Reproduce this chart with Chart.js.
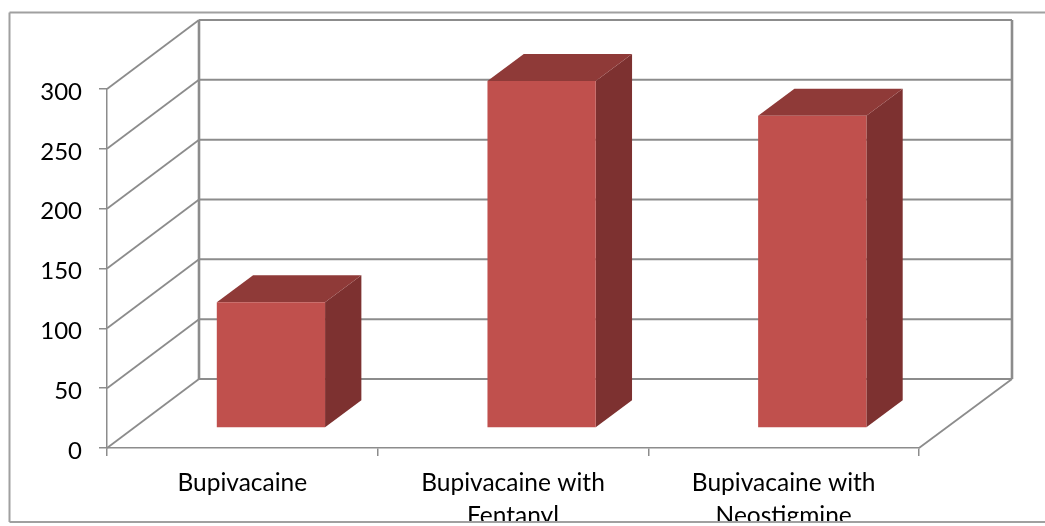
<!DOCTYPE html>
<html>
<head>
<meta charset="utf-8">
<style>
  html, body { margin: 0; padding: 0; background: #fff; overflow: hidden; }
  canvas { display: block; }
</style>
<script src="https://cdn.jsdelivr.net/npm/chart.js@4"></script>
</head>
<body>
<canvas id="chart" width="1045" height="526"></canvas>
<script>
const categories = [
  "Bupivacaine",
  ["Bupivacaine with", "Fentanyl"],
  ["Bupivacaine with", "Neostigmine"]
];
const values = [105, 290, 261];
const axisMin = 0;
const axisMax = 300;
const axisStep = 50;

// Oblique projection used for the box look
const WALL_DX = 92, WALL_DY = -69;     // floor depth, front edge to back wall
const BAR_DX = 28.6, BAR_DY = -20;     // bars stand this far in from the front edge
const BOX_DX = 36.3, BOX_DY = -27;     // depth of each bar

const LINE = "#8c8c8c";
const FRONT = "#c0504d", SIDE = "#7d3130", TOP = "#8f3a38";
const LABEL_FONT = "Lato";

function segment(ctx, x1, y1, x2, y2, width, color) {
  ctx.beginPath();
  ctx.moveTo(x1, y1);
  ctx.lineTo(x2, y2);
  ctx.lineWidth = width;
  ctx.strokeStyle = color || LINE;
  ctx.stroke();
}

function polygon(ctx, pts, color) {
  ctx.beginPath();
  pts.forEach((p, i) => i ? ctx.lineTo(p[0], p[1]) : ctx.moveTo(p[0], p[1]));
  ctx.closePath();
  ctx.fillStyle = color;
  ctx.fill();
}

const boxWalls = {
  id: "boxWalls",
  beforeDatasetsDraw(chart) {
    const { ctx, scales: { x, y } } = chart;
    const left = x.left, right = x.right;
    ctx.save();
    y.ticks.forEach(t => {
      const py = y.getPixelForValue(t.value);
      segment(ctx, left, py, left + WALL_DX, py + WALL_DY, 1.8);
      segment(ctx, left + WALL_DX, py + WALL_DY, right + WALL_DX + 1, py + WALL_DY, 2);
      // Value labels sit slightly below the tick mark
      ctx.font = "24px " + LABEL_FONT;
      ctx.fillStyle = "#000";
      ctx.textAlign = "right";
      ctx.textBaseline = "middle";
      ctx.fillText(t.label, 82, py + 3);
    });
    const backTop = y.getPixelForValue(axisMax) + WALL_DY;
    const backBottom = y.getPixelForValue(axisMin) + WALL_DY;
    segment(ctx, left + WALL_DX, backTop, left + WALL_DX, backBottom, 2.6);
    segment(ctx, right + WALL_DX + 1, backTop, right + WALL_DX + 1, backBottom, 2.6);
    segment(ctx, right, y.bottom, right + WALL_DX + 1, backBottom, 1.8);
    ctx.restore();
  },
  // The side and top faces go down first, then the library paints the front face on the shifted canvas
  beforeDatasetDraw(chart, args) {
    const { ctx } = chart;
    ctx.save();
    ctx.translate(BAR_DX, BAR_DY);
    args.meta.data.forEach(bar => {
      const l = bar.x - bar.width / 2, r = bar.x + bar.width / 2;
      const t = bar.y, b = bar.base;
      polygon(ctx, [[r, t], [r + BOX_DX, t + BOX_DY], [r + BOX_DX, b + BOX_DY], [r, b]], SIDE);
      polygon(ctx, [[l, t], [l + BOX_DX, t + BOX_DY], [r + BOX_DX, t + BOX_DY], [r, t]], TOP);
    });
  },
  afterDatasetDraw(chart) {
    chart.ctx.restore();
  },
  afterDraw(chart) {
    const { ctx, width, height } = chart;
    ctx.save();
    // Outer frame: the lower edge trims the second row of category labels
    ctx.fillStyle = "#fff";
    ctx.fillRect(0, 523, width, height - 523);
    segment(ctx, 9.5, 12.5, width, 12.5, 2, "#a0a0a0");
    segment(ctx, 9.5, 12.5, 9.5, 522, 2, "#a0a0a0");
    segment(ctx, 9.5, 522, width, 522, 2, "#a0a0a0");
    ctx.restore();
  }
};

new Chart(document.getElementById("chart"), {
  type: "bar",
  plugins: [boxWalls],
  data: {
    labels: categories,
    datasets: [{
      data: values,
      backgroundColor: FRONT,
      borderWidth: 0,
      barPercentage: 1,
      categoryPercentage: 0.4,
      clip: false
    }]
  },
  options: {
    responsive: false,
    animation: false,
    layout: { padding: { top: 89, right: 126, left: 0, bottom: 0 } },
    plugins: { legend: { display: false }, tooltip: { enabled: false }, title: { display: false } },
    scales: {
      x: {
        afterFit(s) { s.height = 526 - 448; },
        grid: { drawOnChartArea: false, drawTicks: true, tickLength: 8, color: LINE, lineWidth: 1.5 },
        border: { color: LINE, width: 1.5 },
        ticks: {
          color: "#000",
          font: { family: LABEL_FONT, size: 24.5, lineHeight: 1.33 },
          maxRotation: 0, minRotation: 0, autoSkip: false, padding: 11
        }
      },
      y: {
        min: axisMin,
        max: axisMax,
        afterFit(s) { s.width = 107; },
        grid: { drawOnChartArea: false, drawTicks: true, tickLength: 8, color: LINE, lineWidth: 1.5 },
        border: { color: LINE, width: 1.5 },
        ticks: { stepSize: axisStep, display: false }
      }
    }
  }
});
</script>
</body>
</html>
